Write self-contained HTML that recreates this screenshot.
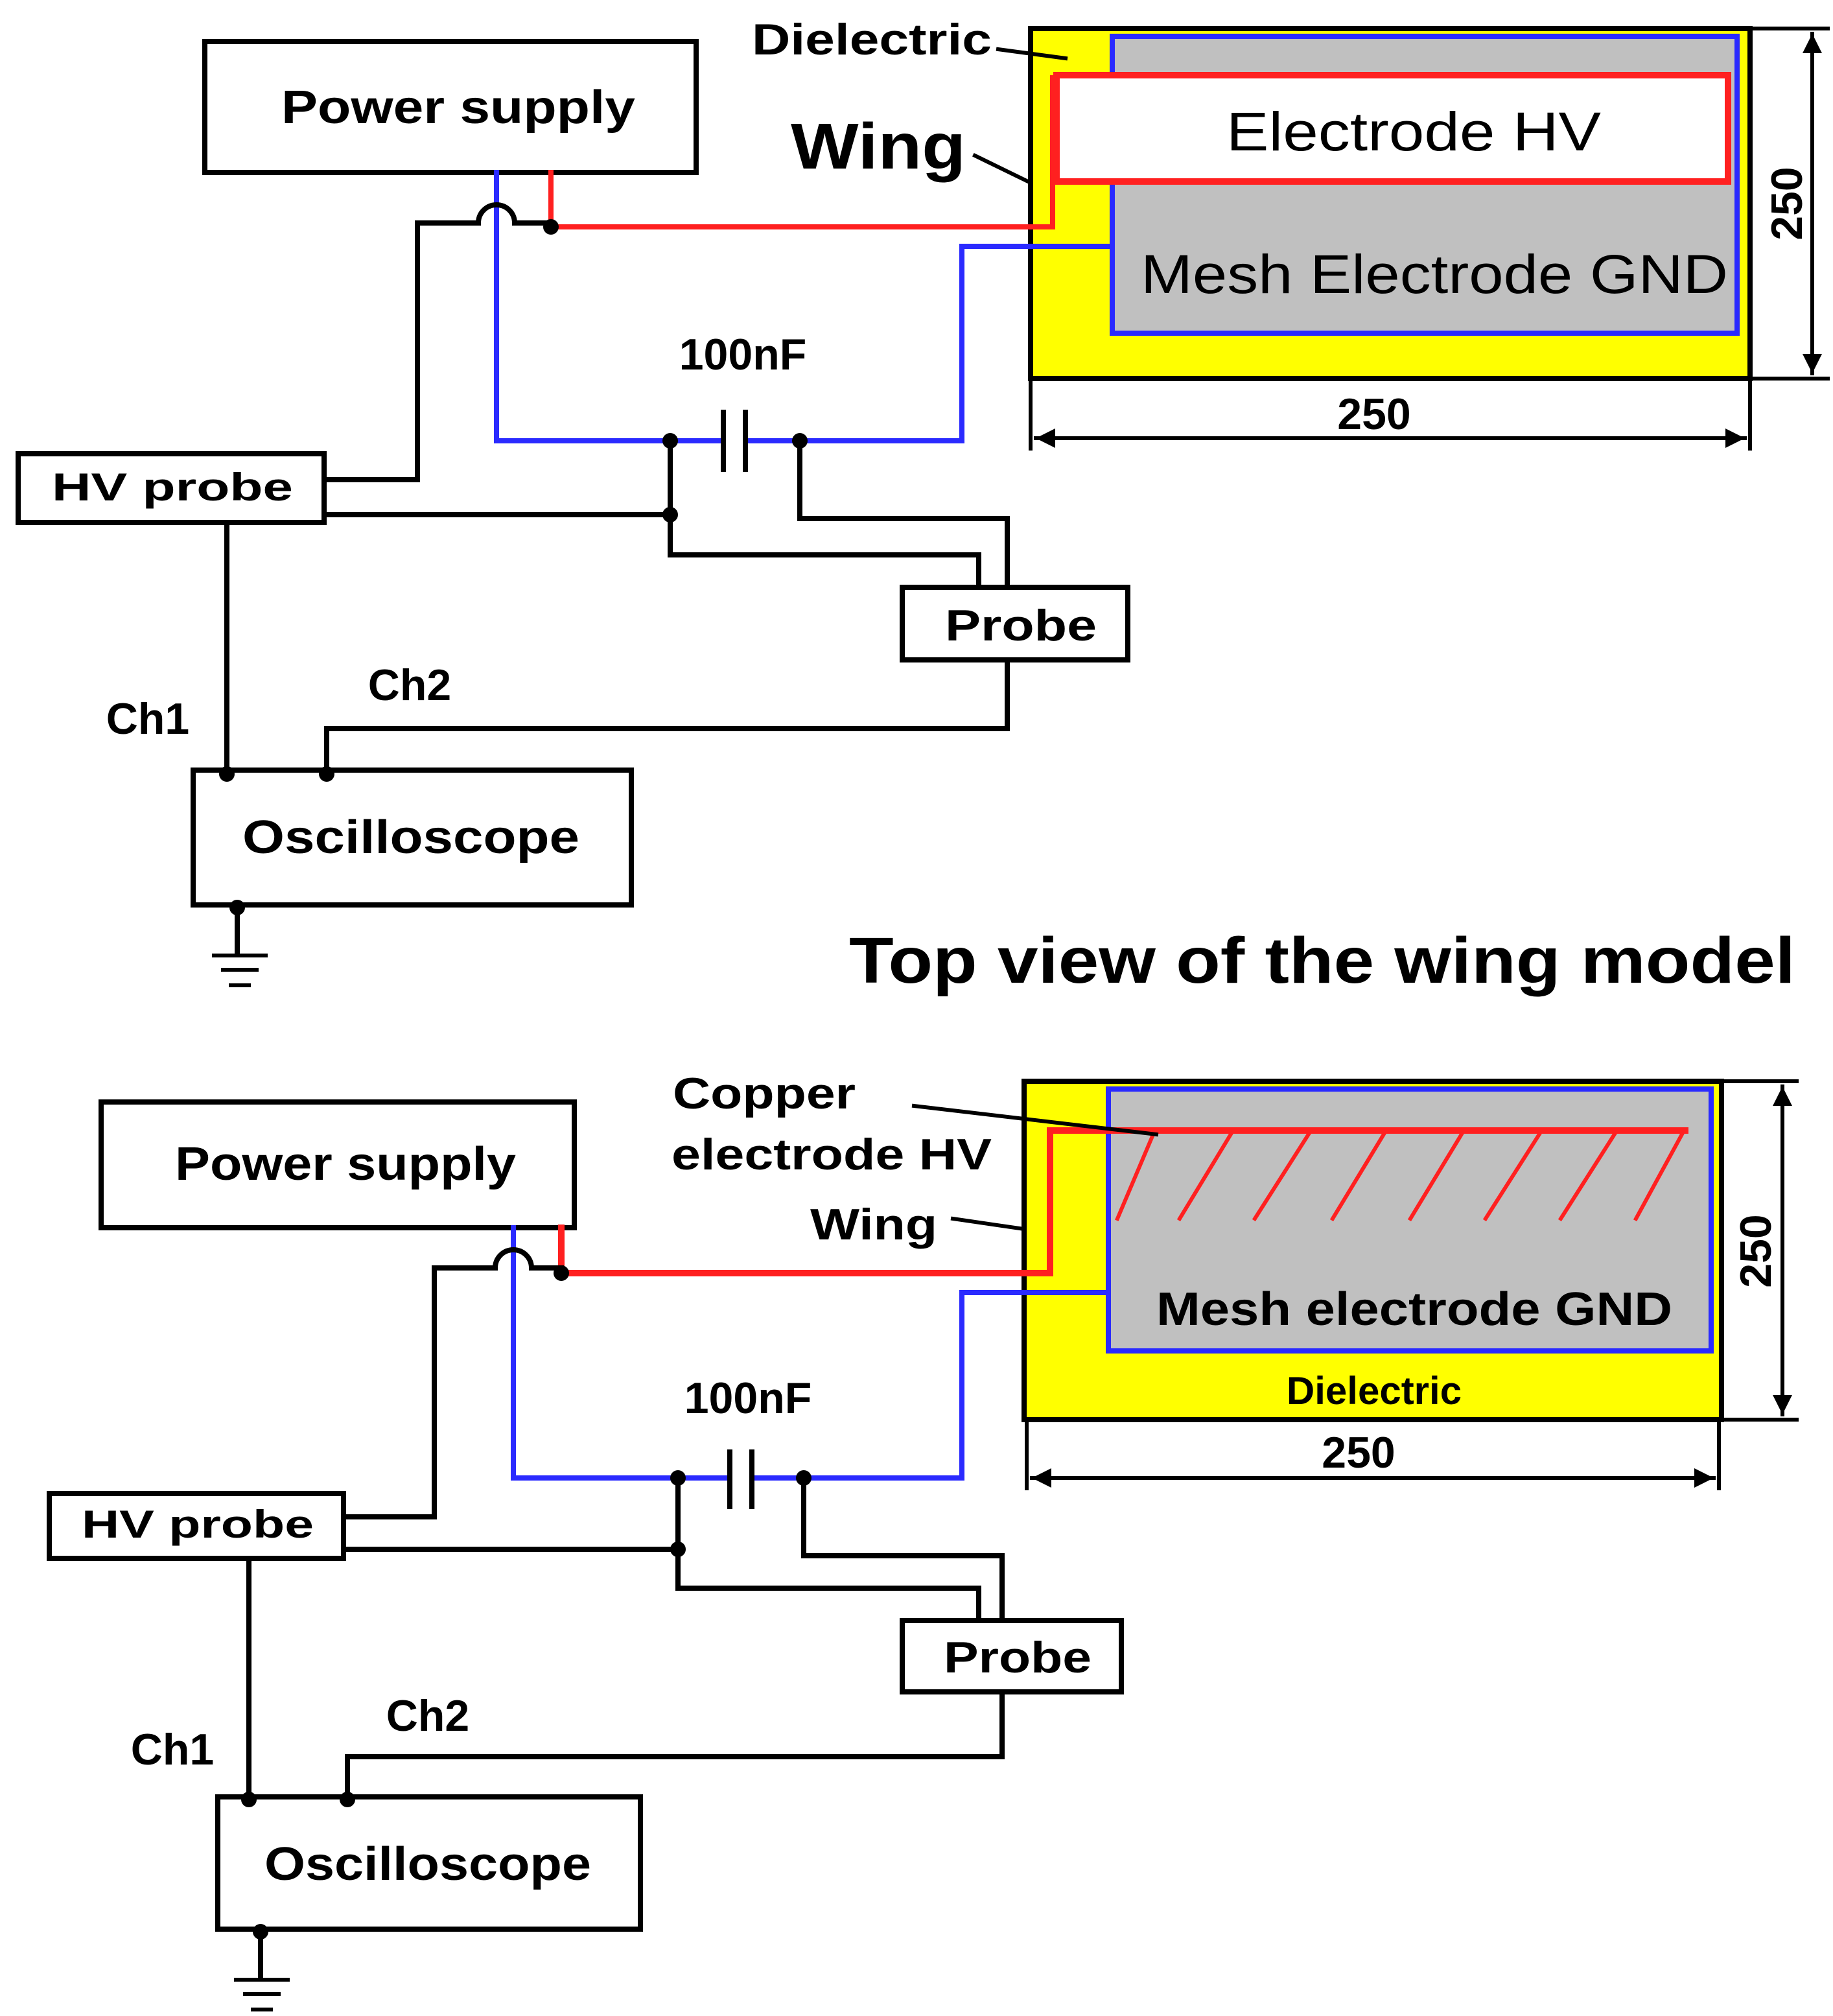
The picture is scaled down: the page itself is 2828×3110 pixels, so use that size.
<!DOCTYPE html>
<html><head><meta charset="utf-8"><style>
html,body{margin:0;padding:0;background:#fff;}
svg{display:block;}
text{font-family:"Liberation Sans",Arial,sans-serif;font-weight:bold;fill:#000;}
</style></head><body>
<svg width="2828" height="3110" viewBox="0 0 1414 1555" xmlns="http://www.w3.org/2000/svg">
<defs>
<marker id="ar" viewBox="0 0 10 10" refX="10" refY="5" markerWidth="7" markerHeight="5" orient="auto-start-reverse" markerUnits="strokeWidth"><path d="M0,0 L10,5 L0,10 z" fill="#000"/></marker>
</defs>
<g stroke-linecap="square" fill="none">
<!-- ===== TOP ===== -->
<rect x="158" y="32" width="379" height="101" stroke="#000" stroke-width="4" fill="#fff"/>
<text x="217" y="95" font-size="36" textLength="273" lengthAdjust="spacingAndGlyphs">Power supply</text>

<rect x="795" y="22" width="555" height="270" fill="#ffff00" stroke="#000" stroke-width="4"/>
<rect x="858" y="28" width="482" height="229" fill="#c0c0c0" stroke="#2a2aff" stroke-width="4"/>
<rect x="815" y="58" width="518" height="82" fill="#fff" stroke="#ff2020" stroke-width="5"/>
<text x="946" y="116" font-size="42" style="font-weight:normal" textLength="289" lengthAdjust="spacingAndGlyphs">Electrode HV</text>
<text x="880" y="226" font-size="42" style="font-weight:normal" textLength="453" lengthAdjust="spacingAndGlyphs">Mesh Electrode GND</text>

<line x1="1350" y1="22" x2="1410" y2="22" stroke="#000" stroke-width="3"/>
<line x1="1350" y1="292" x2="1410" y2="292" stroke="#000" stroke-width="3"/>
<line x1="1398" y1="26" x2="1398" y2="288" stroke="#000" stroke-width="3" marker-start="url(#ar)" marker-end="url(#ar)"/>
<text transform="translate(1390,157) rotate(-90)" font-size="34" text-anchor="middle">250</text>
<line x1="795" y1="292" x2="795" y2="346" stroke="#000" stroke-width="3"/>
<line x1="1350" y1="292" x2="1350" y2="346" stroke="#000" stroke-width="3"/>
<line x1="799" y1="338" x2="1346" y2="338" stroke="#000" stroke-width="3" marker-start="url(#ar)" marker-end="url(#ar)"/>
<text x="1060" y="331" font-size="34" text-anchor="middle">250</text>

<text x="580" y="42" font-size="34" textLength="185" lengthAdjust="spacingAndGlyphs">Dielectric</text>
<line x1="770" y1="38" x2="822" y2="45" stroke="#000" stroke-width="3"/>
<text x="610" y="130" font-size="50" textLength="135" lengthAdjust="spacingAndGlyphs">Wing</text>
<line x1="752" y1="120" x2="793" y2="140" stroke="#000" stroke-width="3"/>

<polyline points="425,133 425,175 812,175 812,60" stroke="#ff2020" stroke-width="4"/>
<polyline points="383,133 383,340 555,340" stroke="#2a2aff" stroke-width="4"/>
<polyline points="578,340 742,340 742,190 858,190 858,228" stroke="#2a2aff" stroke-width="4"/>
<line x1="558" y1="318" x2="558" y2="362" stroke="#000" stroke-width="4"/>
<line x1="575" y1="318" x2="575" y2="362" stroke="#000" stroke-width="4"/>
<text x="573" y="285" font-size="34" text-anchor="middle">100nF</text>

<path d="M250,370 H322 V172 H369 A14,14 0 0 1 397,172 H425" stroke="#000" stroke-width="4"/>
<rect x="14" y="350" width="236" height="53" stroke="#000" stroke-width="4" fill="#fff"/>
<text x="40" y="386" font-size="30" textLength="186" lengthAdjust="spacingAndGlyphs">HV probe</text>
<polyline points="250,397 517,397" stroke="#000" stroke-width="4"/>
<polyline points="517,340 517,428 755,428 755,455" stroke="#000" stroke-width="4"/>
<polyline points="617,340 617,400 777,400 777,455" stroke="#000" stroke-width="4"/>
<rect x="696" y="453" width="174" height="56" stroke="#000" stroke-width="4" fill="#fff"/>
<text x="729" y="494" font-size="34" textLength="117" lengthAdjust="spacingAndGlyphs">Probe</text>
<polyline points="777,509 777,562 252,562 252,597" stroke="#000" stroke-width="4"/>
<line x1="175" y1="403" x2="175" y2="597" stroke="#000" stroke-width="4"/>
<text x="114" y="566" font-size="34" text-anchor="middle">Ch1</text>
<text x="316" y="540" font-size="34" text-anchor="middle">Ch2</text>
<rect x="149" y="594" width="338" height="104" stroke="#000" stroke-width="4" fill="#fff"/>
<text x="187" y="658" font-size="36" textLength="260" lengthAdjust="spacingAndGlyphs">Oscilloscope</text>
<line x1="183" y1="698" x2="183" y2="736" stroke="#000" stroke-width="4"/>
<line x1="165" y1="737" x2="205" y2="737" stroke="#000" stroke-width="3"/>
<line x1="172" y1="748" x2="198" y2="748" stroke="#000" stroke-width="3"/>
<line x1="178" y1="760" x2="192" y2="760" stroke="#000" stroke-width="3"/>

<text x="655" y="758" font-size="50" textLength="730" lengthAdjust="spacingAndGlyphs">Top view of the wing model</text>

<!-- ===== BOTTOM ===== -->
<rect x="78" y="850" width="365" height="97" stroke="#000" stroke-width="4" fill="#fff"/>
<text x="135" y="910" font-size="36" textLength="263" lengthAdjust="spacingAndGlyphs">Power supply</text>

<rect x="790" y="834" width="538" height="261" fill="#ffff00" stroke="#000" stroke-width="4"/>
<rect x="855" y="840" width="465" height="202" fill="#c0c0c0" stroke="#2a2aff" stroke-width="4"/>
<text x="892" y="1022" font-size="36" textLength="398" lengthAdjust="spacingAndGlyphs">Mesh electrode GND</text>
<text x="1060" y="1083" font-size="30" text-anchor="middle">Dielectric</text>
<polyline points="433,947 433,982 810,982 810,872 1300,872" stroke="#ff2020" stroke-width="5"/>
<g stroke="#ff2020" stroke-width="3">
<line x1="890" y1="874" x2="862" y2="940"/>
<line x1="950" y1="874" x2="910" y2="940"/>
<line x1="1010" y1="874" x2="968" y2="940"/>
<line x1="1068" y1="874" x2="1028" y2="940"/>
<line x1="1128" y1="874" x2="1088" y2="940"/>
<line x1="1188" y1="874" x2="1146" y2="940"/>
<line x1="1246" y1="874" x2="1204" y2="940"/>
<line x1="1298" y1="874" x2="1262" y2="940"/>
</g>
<line x1="1328" y1="834" x2="1386" y2="834" stroke="#000" stroke-width="3"/>
<line x1="1328" y1="1095" x2="1386" y2="1095" stroke="#000" stroke-width="3"/>
<line x1="1375" y1="838" x2="1375" y2="1091" stroke="#000" stroke-width="3" marker-start="url(#ar)" marker-end="url(#ar)"/>
<text transform="translate(1366,965) rotate(-90)" font-size="34" text-anchor="middle">250</text>
<line x1="792" y1="1095" x2="792" y2="1148" stroke="#000" stroke-width="3"/>
<line x1="1326" y1="1095" x2="1326" y2="1148" stroke="#000" stroke-width="3"/>
<line x1="796" y1="1140" x2="1322" y2="1140" stroke="#000" stroke-width="3" marker-start="url(#ar)" marker-end="url(#ar)"/>
<text x="1048" y="1132" font-size="34" text-anchor="middle">250</text>

<text x="519" y="855" font-size="34" textLength="141" lengthAdjust="spacingAndGlyphs">Copper</text>
<text x="518" y="902" font-size="34" textLength="247" lengthAdjust="spacingAndGlyphs">electrode HV</text>
<text x="625" y="956" font-size="34" textLength="98" lengthAdjust="spacingAndGlyphs">Wing</text>
<line x1="705" y1="853" x2="892" y2="875" stroke="#000" stroke-width="3"/>
<line x1="735" y1="940" x2="790" y2="948" stroke="#000" stroke-width="3"/>

<polyline points="396,947 396,1140 561,1140" stroke="#2a2aff" stroke-width="4"/>
<polyline points="582,1140 742,1140 742,997 855,997 855,1030" stroke="#2a2aff" stroke-width="4"/>
<line x1="563" y1="1120" x2="563" y2="1162" stroke="#000" stroke-width="4"/>
<line x1="580" y1="1120" x2="580" y2="1162" stroke="#000" stroke-width="4"/>
<text x="577" y="1090" font-size="34" text-anchor="middle">100nF</text>

<path d="M265,1170 H335 V978 H382 A14,14 0 0 1 410,978 H433" stroke="#000" stroke-width="4"/>
<rect x="38" y="1152" width="227" height="50" stroke="#000" stroke-width="4" fill="#fff"/>
<text x="63" y="1186" font-size="30" textLength="179" lengthAdjust="spacingAndGlyphs">HV probe</text>
<polyline points="265,1195 523,1195" stroke="#000" stroke-width="4"/>
<polyline points="523,1140 523,1225 755,1225 755,1252" stroke="#000" stroke-width="4"/>
<polyline points="620,1140 620,1200 773,1200 773,1252" stroke="#000" stroke-width="4"/>
<rect x="696" y="1250" width="169" height="55" stroke="#000" stroke-width="4" fill="#fff"/>
<text x="728" y="1290" font-size="34" textLength="114" lengthAdjust="spacingAndGlyphs">Probe</text>
<polyline points="773,1305 773,1355 268,1355 268,1388" stroke="#000" stroke-width="4"/>
<line x1="192" y1="1202" x2="192" y2="1388" stroke="#000" stroke-width="4"/>
<text x="133" y="1361" font-size="34" text-anchor="middle">Ch1</text>
<text x="330" y="1335" font-size="34" text-anchor="middle">Ch2</text>
<rect x="168" y="1386" width="326" height="102" stroke="#000" stroke-width="4" fill="#fff"/>
<text x="204" y="1450" font-size="36" textLength="252" lengthAdjust="spacingAndGlyphs">Oscilloscope</text>
<line x1="201" y1="1488" x2="201" y2="1526" stroke="#000" stroke-width="4"/>
<line x1="182" y1="1527" x2="222" y2="1527" stroke="#000" stroke-width="3"/>
<line x1="189" y1="1538" x2="215" y2="1538" stroke="#000" stroke-width="3"/>
<line x1="195" y1="1550" x2="209" y2="1550" stroke="#000" stroke-width="3"/>
</g>
<g fill="#000">
<circle cx="425" cy="175" r="6"/>
<circle cx="517" cy="340" r="6"/><circle cx="617" cy="340" r="6"/><circle cx="517" cy="397" r="6"/>
<circle cx="175" cy="597" r="6"/><circle cx="252" cy="597" r="6"/><circle cx="183" cy="700" r="6"/>
<circle cx="433" cy="982" r="6"/>
<circle cx="523" cy="1140" r="6"/><circle cx="620" cy="1140" r="6"/><circle cx="523" cy="1195" r="6"/>
<circle cx="192" cy="1388" r="6"/><circle cx="268" cy="1388" r="6"/><circle cx="201" cy="1490" r="6"/>
</g>
</svg>
</body></html>
